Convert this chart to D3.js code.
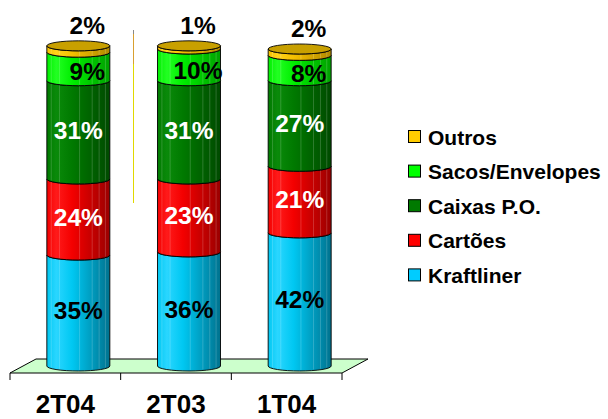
<!DOCTYPE html>
<html><head><meta charset="utf-8">
<script src="https://cdn.jsdelivr.net/npm/d3@7"></script>
<style>html,body{margin:0;padding:0;background:#fff;}svg{display:block;}</style>
</head><body>
<svg id="chart" width="608" height="419"></svg>
<script>
const categories = ["2T04", "2T03", "1T04"];
const seriesNames = ["Kraftliner", "Cartões", "Caixas P.O.", "Sacos/Envelopes", "Outros"];
const kraftliner = [35, 36, 42];
const cartoes = [24, 23, 21];
const caixas = [31, 31, 27];
const sacos = [9, 10, 8];
const outros = [2, 1, 2];
const seriesValues = [kraftliner, cartoes, caixas, sacos, outros];

const colors = {
  "Kraftliner": {light: "#2ad6ff", base: "#00c8f2", dark: "#00728e", label: "#000"},
  "Cartões": {light: "#ff1a1a", base: "#f40000", dark: "#9a0000", label: "#fff"},
  "Caixas P.O.": {light: "#0a8a0a", base: "#007a00", dark: "#004a00", label: "#fff"},
  "Sacos/Envelopes": {light: "#22ff22", base: "#00ee00", dark: "#00a000", label: "#000"},
  "Outros": {light: "#ffd21a", base: "#f5c000", dark: "#b08800", label: "#000"}
};
const legendColors = {"Kraftliner": "#00ccff", "Cartões": "#ff0000", "Caixas P.O.": "#007a00", "Sacos/Envelopes": "#00ff00", "Outros": "#ffcc00"};

const svg = d3.select("#chart");
const defs = svg.append("defs");
seriesNames.forEach((s, i) => {
  const g = defs.append("linearGradient").attr("id", "g" + i).attr("x1", "0").attr("x2", "1").attr("y1", "0").attr("y2", "0");
  const c = colors[s];
  g.append("stop").attr("offset", "0").attr("stop-color", c.base);
  g.append("stop").attr("offset", "0.15").attr("stop-color", c.light);
  g.append("stop").attr("offset", "0.4").attr("stop-color", c.base);
  g.append("stop").attr("offset", "1").attr("stop-color", c.dark);
});

const FONT = "'Liberation Sans', Arial, sans-serif";
const x = d3.scaleBand().domain(categories).range([10, 342]).paddingInner(0).paddingOuter(0);
const y = d3.scaleLinear().domain([0, 100]).range([366, 49]);
const depthX = 26, depthY = 14;
const rx = 31.5, ry = 5;

// stray vertical line
svg.append("line").attr("x1", 133.5).attr("x2", 133.5).attr("y1", 34).attr("y2", 203).attr("stroke", "#e0d800").attr("stroke-width", 1);
svg.append("line").attr("x1", 133.5).attr("x2", 133.5).attr("y1", 34).attr("y2", 64).attr("stroke", "#d8a030").attr("stroke-width", 1);
svg.append("line").attr("x1", 133.5).attr("x2", 133.5).attr("y1", 30).attr("y2", 34).attr("stroke", "#888").attr("stroke-width", 1);

// floor
const fy = 373, x0 = x.range()[0], x1 = x.range()[1];
svg.append("path")
  .attr("d", `M${x0},${fy} L${x0 + depthX},${fy - depthY} L${x1 + depthX},${fy - depthY} L${x1},${fy} Z`)
  .attr("fill", "#ccffcc").attr("stroke", "none");
svg.append("path")
  .attr("d", `M${x0},${fy} L${x0 + depthX},${fy - depthY} L${x1 + depthX},${fy - depthY} L${x1},${fy}`)
  .attr("fill", "none").attr("stroke", "#000").attr("stroke-width", 1);

// axis
const axis = d3.axisBottom(x).tickSize(0).tickFormat("");
const ax = svg.append("g").attr("transform", `translate(0,${fy})`).call(axis);
ax.select(".domain").attr("stroke", "#000").attr("d", `M${x0},0H${x1}`);
const tickXs = [x0, ...categories.map(c => x(c) + x.bandwidth())];
tickXs.forEach(t => {
  ax.append("line").attr("x1", t).attr("x2", t).attr("y1", 0).attr("y2", 7).attr("stroke", "#000");
});

// cylinders
categories.forEach((cat, ci) => {
  const cx = x(cat) + x.bandwidth() / 2 + depthX / 2;
  let cum = 0;
  const g = svg.append("g");
  seriesValues.forEach((vals, si) => {
    const v = vals[ci];
    const Y0 = y(cum), Y1 = y(cum + v);
    const d = `M${cx - rx},${Y1} A${rx},${ry} 0 0 0 ${cx + rx},${Y1} L${cx + rx},${Y0} A${rx},${ry} 0 0 1 ${cx - rx},${Y0} Z`;
    g.append("path").attr("d", d).attr("fill", `url(#g${si})`).attr("stroke", "#000").attr("stroke-width", 0.9);
    [0.07, 0.2, 0.52, 0.72, 0.83, 0.93].forEach(f => {
      const fx = cx - rx + f * 2 * rx;
      const dy = ry * Math.sqrt(1 - Math.pow((fx - cx) / rx, 2));
      g.append("line").attr("x1", fx).attr("x2", fx).attr("y1", Y1 + dy).attr("y2", Y0 + dy - 1)
        .attr("stroke", "#fff").attr("stroke-opacity", 0.18).attr("stroke-width", 1);
    });
    cum += v;
  });
  g.append("ellipse").attr("cx", cx).attr("cy", y(cum)).attr("rx", rx).attr("ry", ry)
    .attr("fill", "#c8a000").attr("stroke", "#000").attr("stroke-width", 0.9);

  cum = 0;
  seriesValues.forEach((vals, si) => {
    const v = vals[ci];
    const s = seriesNames[si];
    let lx = cx, ly = y(cum + v / 2);
    if (s === "Outros") { lx = cx + 9; ly = y(cum + v) - 21; }
    else if (s === "Sacos/Envelopes") { lx = cx + 9; ly = ly + 5; }
    svg.append("text").attr("x", lx).attr("y", ly).attr("dy", "0.36em")
      .attr("text-anchor", "middle").attr("font-family", FONT).attr("font-weight", "bold")
      .attr("font-size", 24.5).attr("fill", colors[s].label).text(v + "%");
    cum += v;
  });

  svg.append("text").attr("x", x(cat) + x.bandwidth() / 2).attr("y", 413)
    .attr("text-anchor", "middle").attr("font-family", FONT).attr("font-weight", "bold")
    .attr("font-size", 26).attr("fill", "#000").text(cat);
});

// legend
const legendOrder = seriesNames.slice().reverse();
legendOrder.forEach((s, i) => {
  const cy = 137 + i * 34.6;
  svg.append("rect").attr("x", 408.5).attr("y", cy - 6.5).attr("width", 12).attr("height", 12)
    .attr("fill", legendColors[s]).attr("stroke", "#000").attr("stroke-width", 1);
  svg.append("text").attr("x", 428).attr("y", cy).attr("dy", "0.36em")
    .attr("font-family", FONT).attr("font-weight", "bold").attr("font-size", 21).attr("fill", "#000").text(s);
});
</script>
</body></html>
